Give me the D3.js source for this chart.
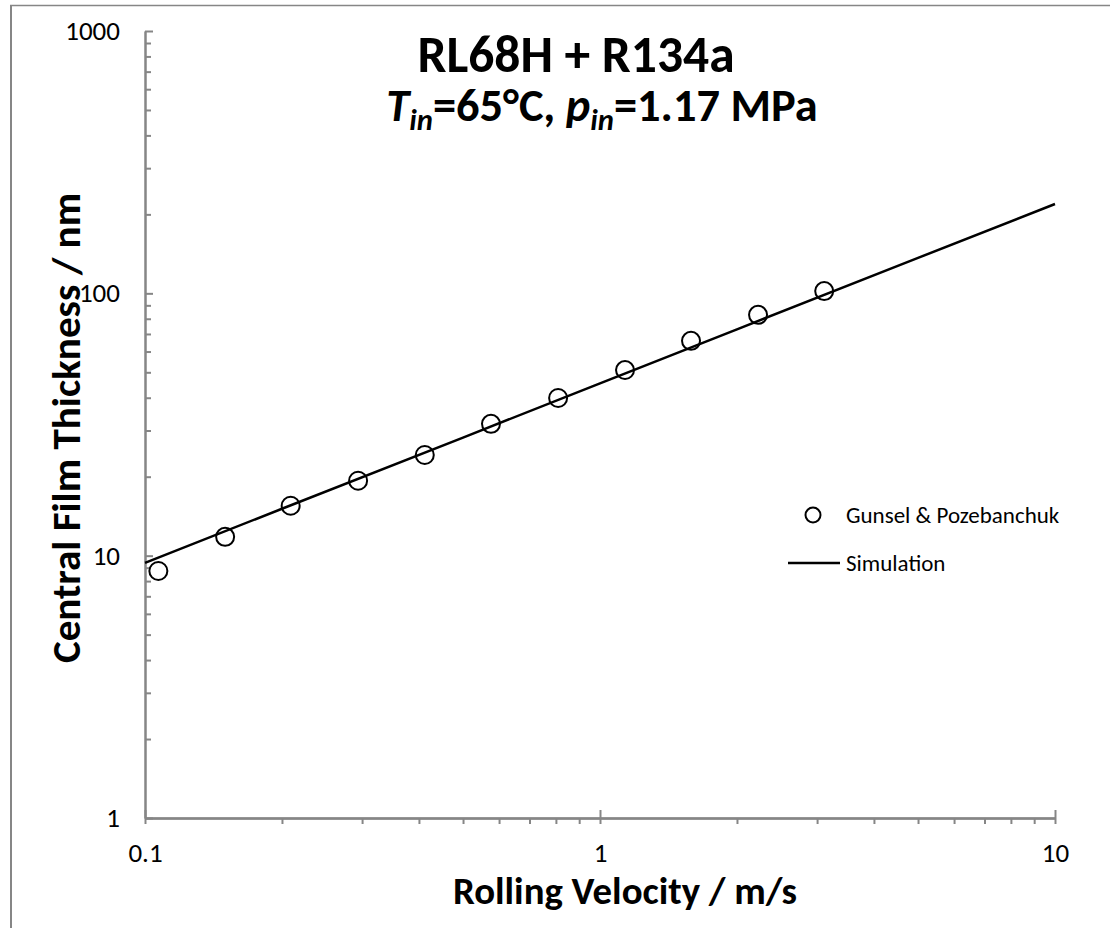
<!DOCTYPE html>
<html>
<head>
<meta charset="utf-8">
<script src="https://d3js.org/d3.v7.min.js"></script>
<style>
  body { margin: 0; background: #fff; }
  text { font-family: Calibri, Carlito, Lato, sans-serif; fill: #000; }
  .axis path, .axis line { stroke: #868686; stroke-width: 2; }
</style>
</head>
<body>
<div id="chart"></div>
<script>
// measured points (Gunsel & Pozebanchuk)
var expVelocity = [0.107, 0.150, 0.209, 0.294, 0.412, 0.576, 0.809, 1.135, 1.585, 2.225, 3.11]
var expThickness = [8.74, 11.8, 15.5, 19.3, 24.2, 31.8, 39.9, 51.0, 65.9, 82.8, 102]

// simulation curve
var simVelocity = [0.1, 0.2, 0.5, 1, 2, 5, 10]
var simThickness = [9.38, 15.1, 28.2, 45.4, 72.9, 136.5, 219]

var xTicks = [0.1, 1, 10]
var yTicks = [1, 10, 100, 1000]

var width = 1110, height = 928
var plotLeft = 145, plotRight = 1055, plotTop = 31, plotBottom = 818

var svg = d3.select("#chart")
  .append("svg")
  .attr("width", width)
  .attr("height", height)

// shrink / grow a text so it takes the width it has in the picture
function fitWidth(sel, target) {
  var fs = parseFloat(sel.style("font-size"))
  var len = sel.node().getComputedTextLength()
  sel.style("font-size", (fs * target / len).toFixed(1) + "px")
}

// outer frame
svg.append("line").attr("x1", 10).attr("x2", width).attr("y1", 5.5).attr("y2", 5.5)
  .style("stroke", "#868686").style("stroke-width", 1.5)
svg.append("line").attr("x1", 11).attr("x2", 11).attr("y1", 5).attr("y2", height)
  .style("stroke", "#868686").style("stroke-width", 2)

var x = d3.scaleLog().domain([0.1, 10]).range([plotLeft, plotRight])
var y = d3.scaleLog().domain([1, 1000]).range([plotBottom, plotTop])

// minor ticks
var xMinor = [], yMinor = []
for (var d = 0.1; d < 10; d *= 10) {
  for (var k = 2; k <= 9; k++) xMinor.push(+(d * k).toPrecision(3))
}
for (var d = 1; d < 1000; d *= 10) {
  for (var k = 2; k <= 9; k++) yMinor.push(d * k)
}

// Y axis
svg.append("g")
  .attr("class", "axis")
  .attr("transform", "translate(" + plotLeft + ",0)")
  .call(d3.axisLeft(y).tickValues(yMinor).tickFormat("").tickSizeInner(-6).tickSizeOuter(0))
svg.append("g")
  .attr("class", "axis")
  .attr("transform", "translate(" + plotLeft + ",0)")
  .call(d3.axisLeft(y).tickValues(yTicks).tickFormat(d3.format("d")).tickSizeInner(-8).tickSizeOuter(0).tickPadding(25))
  .selectAll("text").style("font-size", "27px")

// X axis
svg.append("g")
  .attr("class", "axis")
  .attr("transform", "translate(0," + plotBottom + ")")
  .call(d3.axisBottom(x).tickValues(xMinor).tickFormat("").tickSizeInner(6).tickSizeOuter(0))
svg.append("g")
  .attr("class", "axis")
  .attr("transform", "translate(0," + plotBottom + ")")
  .call(d3.axisBottom(x).tickValues(xTicks).tickFormat("").tickSizeInner(-8).tickSizeOuter(0))
svg.append("g")
  .attr("class", "axis")
  .attr("transform", "translate(0," + plotBottom + ")")
  .call(d3.axisBottom(x).tickValues(xTicks).tickFormat(function (d) { return d; }).tickSizeInner(6).tickSizeOuter(0).tickPadding(19))
  .selectAll("text").style("font-size", "27px")

svg.selectAll(".axis .domain").style("stroke", "#868686").style("stroke-width", 2)

// simulation line
var simData = simVelocity.map(function (v, i) { return { v: v, h: simThickness[i] } })
svg.append("path")
  .datum(simData)
  .attr("fill", "none")
  .attr("stroke", "#000")
  .attr("stroke-width", 2.5)
  .attr("d", d3.line()
    .x(function (d) { return x(d.v) })
    .y(function (d) { return y(d.h) }))

// experimental points
var expData = expVelocity.map(function (v, i) { return { v: v, h: expThickness[i] } })
svg.selectAll(".pt")
  .data(expData)
  .enter()
  .append("circle")
  .attr("class", "pt")
  .attr("cx", function (d) { return x(d.v) })
  .attr("cy", function (d) { return y(d.h) })
  .attr("r", 9)
  .attr("fill", "none")
  .attr("stroke", "#000")
  .attr("stroke-width", 2)

// titles
var t1 = svg.append("text")
  .attr("x", 576).attr("y", 72)
  .attr("text-anchor", "middle")
  .style("font-size", "44px").style("font-weight", "bold")
  .text("RL68H + R134a")
fitWidth(t1, 317)

var t2 = svg.append("text")
  .attr("x", 602).attr("y", 121)
  .attr("text-anchor", "middle")
  .style("font-size", "44px").style("font-weight", "bold")
t2.append("tspan").style("font-style", "italic").text("T")
t2.append("tspan").style("font-style", "italic").style("font-size", "0.66em").attr("dy", 9).text("in")
t2.append("tspan").attr("dy", -9).text("=65\u00B0C, ")
t2.append("tspan").style("font-style", "italic").text("p")
t2.append("tspan").style("font-style", "italic").style("font-size", "0.66em").attr("dy", 9).text("in")
t2.append("tspan").attr("dy", -9).text("=1.17 MPa")
fitWidth(t2, 432)

// axis titles
var xt = svg.append("text")
  .attr("x", 625).attr("y", 904)
  .attr("text-anchor", "middle")
  .style("font-size", "32px").style("font-weight", "bold")
  .text("Rolling Velocity / m/s")
fitWidth(xt, 344)

var yt = svg.append("text")
  .attr("transform", "translate(80,428) rotate(-90)")
  .attr("text-anchor", "middle")
  .style("font-size", "32px").style("font-weight", "bold")
  .text("Central Film Thickness / nm")
fitWidth(yt, 470)

// legend
svg.append("circle")
  .attr("cx", 813).attr("cy", 515).attr("r", 7.5)
  .attr("fill", "none").attr("stroke", "#000").attr("stroke-width", 2)
svg.append("text")
  .attr("x", 846).attr("y", 523)
  .style("font-size", "23px")
  .text("Gunsel & Pozebanchuk")
svg.append("line")
  .attr("x1", 788).attr("x2", 840).attr("y1", 563).attr("y2", 563)
  .attr("stroke", "#000").attr("stroke-width", 2.5)
svg.append("text")
  .attr("x", 846).attr("y", 571)
  .style("font-size", "23px")
  .text("Simulation")
</script>
</body>
</html>
